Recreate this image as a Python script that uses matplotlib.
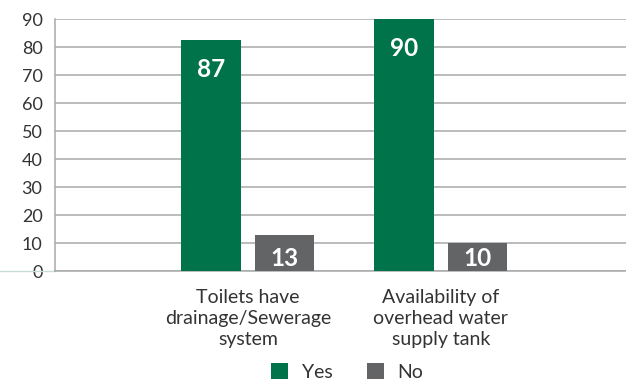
import matplotlib.pyplot as plt
import numpy as np

plt.rcParams['font.family'] = ['Lato', 'DejaVu Sans']

categories = ['Toilets have\ndrainage/Sewerage\nsystem', 'Availability of\noverhead water\nsupply tank']
yes_heights = [82.5, 90]   # as drawn in the picture
no_heights = [13, 10]
yes_labels = ['87', '90']
no_labels = ['13', '10']
yticks = list(range(0, 91, 10))

green = '#00734a'
grey = '#636466'
gridc = '#a7a9ac'

fig = plt.figure(figsize=(6.26, 3.81), dpi=100)
ax = fig.add_axes([0.0879, 0.2887, 0.9121, 0.6613])

x = np.arange(len(categories))
w = 0.31
off = 0.19
b1 = ax.bar(x - off, yes_heights, w, color=green, label='Yes', zorder=3)
b2 = ax.bar(x + off, no_heights, w, color=grey, label='No', zorder=3)

for bars, labs in ((b1, yes_labels), (b2, no_labels)):
    for b, t in zip(bars, labs):
        ax.text(b.get_x() + b.get_width() / 2, max(b.get_height() - 10.5, 4.3), t,
                ha='center', va='center', color='white', fontsize=17.5,
                fontweight='bold', zorder=4)

ax.set_ylim(0, 90)
ax.set_xlim(-1.0, 1.96)
ax.set_yticks(yticks)
ax.yaxis.grid(True, color=gridc, linewidth=1.1, zorder=0)
ax.set_axisbelow(True)
for s in ['top', 'right']:
    ax.spines[s].set_visible(False)
ax.spines['left'].set_color(gridc)
ax.spines['left'].set_linewidth(1.1)
ax.spines['bottom'].set_color(gridc)
ax.spines['bottom'].set_linewidth(1.1)
ax.axhline(0, xmin=-0.1, xmax=0, clip_on=False, color='#c9dcd6', linewidth=1)

ax.set_xticks(x)
ax.set_xticklabels(categories, fontsize=14, color='#333333', linespacing=1.28)
ax.tick_params(axis='x', length=0, pad=13)
ax.tick_params(axis='y', length=0, pad=9, labelsize=13, labelcolor='#333333')

fig.legend(handles=[b1, b2], loc='lower center', bbox_to_anchor=(0.555, -0.045),
           ncol=2, frameon=False, fontsize=14, handlelength=0.85, handleheight=0.85,
           columnspacing=1.8, handletextpad=0.7, labelcolor='#333333')

fig.savefig('out.png', dpi=100)
